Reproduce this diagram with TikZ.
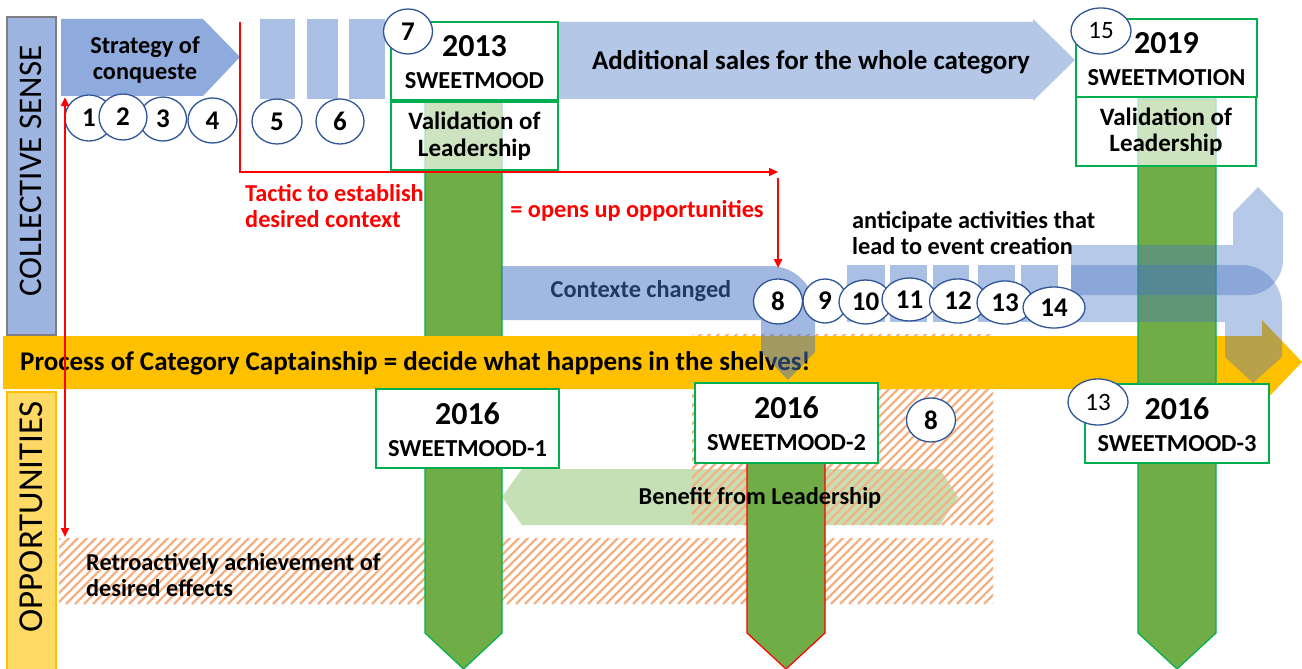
\documentclass[tikz,border=0pt]{standalone}
\usepackage{fontspec}
\setmainfont{Carlito}
\usepackage{tikz}
\usetikzlibrary{shapes,arrows.meta,calc,positioning}

\definecolor{cYellow}{HTML}{FFC000}
\definecolor{cOppFill}{HTML}{FFD966}
\definecolor{cSenseFill}{HTML}{9DB5E0}
\definecolor{cSenseLine}{HTML}{7F7F7F}
\definecolor{cBlue}{HTML}{4472C4}
\definecolor{cStrategy}{HTML}{8FAADC}
\definecolor{cSales}{HTML}{B4C7E7}
\definecolor{cGreen}{HTML}{70AD47}
\definecolor{cGreenLine}{HTML}{00B050}
\definecolor{cBenefit}{HTML}{C5E0B4}
\definecolor{cHatch}{HTML}{F4B183}
\definecolor{cCircle}{HTML}{2F5597}
\definecolor{cDarkBlue}{HTML}{203864}

\tikzstyle{tsBold} = [
    text=black,
    font=\bfseries\fontsize{24.3}{26.5}\selectfont,
    inner sep=0pt
]
\tikzstyle{tsLargeBold} = [
    tsBold,
    font=\bfseries\fontsize{27}{30}\selectfont
]
\tikzstyle{tsWraptext} = [
    tsBold,
    align=center
]
\tikzstyle{tsYear} = [
    tsBold,
    font=\bfseries\fontsize{32}{36}\selectfont
]
\tikzstyle{tsName} = [
    tsBold,
    font=\bfseries\fontsize{24.4}{28}\selectfont
]
\tikzstyle{tsSide} = [
    text=black,
    font=\fontsize{33}{38}\selectfont,
    rotate=90,
    inner sep=0pt
]
\tikzstyle{tsBand} = [
    rectangle,
    line width=1.5pt,
    inner sep=0pt
]
\tikzstyle{tsBox} = [
    rectangle,
    draw=cGreenLine,
    line width=1.5pt,
    fill=white,
    inner sep=0pt
]
\tikzstyle{tsValBox} = [
    tsBox,
    fill opacity=0.66
]
\tikzstyle{tsNum} = [
    ellipse,
    draw=cCircle,
    line width=1.3pt,
    fill=white,
    inner sep=0pt,
    font=\bfseries\fontsize{27}{30}\selectfont
]
\tikzstyle{tsNumSmall} = [
    tsNum,
    font=\fontsize{25}{28}\selectfont
]
\tikzstyle{tsGreenBar} = [
    fill=cGreen,
    draw=cGreenLine,
    line width=1.2pt
]
\tikzstyle{tsHatch} = [
    cHatch,
    line width=2.3pt
]
\tikzstyle{tsRedLine} = [
    red,
    line width=2.5pt
]
\tikzstyle{tsRedArrow} = [
    tsRedLine,
    -{Triangle[length=9pt,width=8pt]}
]

\begin{document}
\begin{tikzpicture}[x=1pt, y=-1pt]
        \useasboundingbox (0,0) rectangle (1302,669);
        \fill[white] (0,0) rectangle (1302,669);

        % Side bands
        \node[tsBand, fill=cSenseFill, draw=cSenseLine,
              minimum width=49pt, minimum height=318pt] (senseBand) at (31.5,176) {};
        \node[tsBand, fill=cOppFill, draw=cYellow,
              minimum width=49pt, minimum height=280pt] (oppBand) at (31.5,532) {};
        \node[tsSide] (senseText) at (31,171) {COLLECTIVE SENSE};
        \node[tsSide, font=\fontsize{35}{40}\selectfont] (oppText) at (31,517) {OPPORTUNITIES};

        % Benefit arrow
        \fill[cBenefit] (502,497) -- (522,469) -- (940,469) -- (958,497) -- (940,525) -- (522,525) -- cycle;

        % Hatched areas
        \foreach \hxa/\hya/\hxb/\hyb in {59/538/993/604, 692/334/993/525} {
            \begin{scope}
                \clip (\hxa,\hya) rectangle (\hxb,\hyb);
                \foreach \hx in {-200,-191,...,1000}
                    \draw[tsHatch] (\hxa+\hx,\hyb) -- ++(200,-200);
            \end{scope}
        }

        % Green bars
        \draw[tsGreenBar] (425,99) -- (502,99) -- (502,633) -- (463.5,669) -- (425,633) -- cycle;
        \draw[tsGreenBar, draw=red] (747,440) -- (825,440) -- (825,633) -- (786,669) -- (747,633) -- cycle;

        % Category captainship
        \fill[cYellow] (3,336) -- (1262,336) -- (1262,320) -- (1302,362) -- (1262,404) -- (1262,389) -- (3,389) -- cycle;
        \node[tsLargeBold, anchor=west] (processText) at (20,363) {Process of Category Captainship = decide what happens in the shelves!};

        \draw[tsGreenBar] (1138,99) -- (1216,99) -- (1216,633) -- (1177,669) -- (1138,633) -- cycle;

        % Blue arrows
        \fill[cStrategy] (61,19) -- (203,19) -- (240,57) -- (203,96) -- (61,96) -- cycle;
        \foreach \rx/\rw in {260/35, 307/31, 349/36}
            \fill[cBlue, fill opacity=0.45] (\rx,19) rectangle ++(\rw,80);
        \fill[cSales] (558,22) -- (1033,22) -- (1033,19) -- (1075,60) -- (1033,101) -- (1033,99) -- (558,99) -- cycle;
        \foreach \rx/\rw in {847/38, 890/37, 933/36, 978/37, 1021/37}
            \fill[cBlue, fill opacity=0.45] (\rx,265) rectangle ++(\rw,57);
        \fill[cBlue, fill opacity=0.5] (501,266) -- (770,266) .. controls (795,266) and (815,286) .. (815,311)
            -- (815,352) -- (788,380) -- (761,352) -- (761,320) -- (501,320) -- cycle;
        \fill[cBlue, fill opacity=0.38] (1071,245) -- (1233,245) -- (1233,213) -- (1258,187) -- (1283,213)
            -- (1283,260) .. controls (1283,279) and (1267,295) .. (1248,295) -- (1071,295) -- cycle;
        \fill[cBlue, fill opacity=0.38] (1071,265) -- (1242,265) .. controls (1264,265) and (1282,284) .. (1282,306)
            -- (1282,357) -- (1253,383) -- (1225,357) -- (1225,322) -- (1071,322) -- cycle;

        % Define nodes
        \node[tsBox, minimum width=167pt, minimum height=78pt] (b2013) at (474.5,61) {};
        \node[tsValBox, minimum width=167pt, minimum height=68pt] (bVal1) at (474.5,136) {};
        \node[tsBox, minimum width=181pt, minimum height=78pt] (b2019) at (1166.5,58) {};
        \node[tsValBox, minimum width=180pt, minimum height=69pt] (bVal2) at (1166,131.5) {};
        \node[tsBox, minimum width=183pt, minimum height=79pt] (b2016a) at (467.5,428.5) {};
        \node[tsBox, minimum width=183pt, minimum height=80pt] (b2016b) at (786.5,423) {};
        \node[tsBox, minimum width=184pt, minimum height=79pt] (b2016c) at (1177,423.5) {};

        \node[tsYear] (y2013) at ($(b2013.center)+(0,-15)$) {2013};
        \node[tsName] (t2013) at ($(b2013.center)+(0,20)$) {SWEETMOOD};
        \node[tsWraptext, font=\bfseries\fontsize{25}{26.5}\selectfont] (val1Text) at (bVal1.center) {Validation of\\Leadership};
        \node[tsYear] (y2019) at ($(b2019.center)+(0,-15)$) {2019};
        \node[tsName] (t2019) at ($(b2019.center)+(0,20)$) {SWEETMOTION};
        \node[tsWraptext, font=\bfseries\fontsize{25}{26.5}\selectfont] (val2Text) at (bVal2.center) {Validation of\\Leadership};
        \node[tsYear] (y2016a) at ($(b2016a.center)+(0,-15)$) {2016};
        \node[tsName] (t2016a) at ($(b2016a.center)+(0,20)$) {SWEETMOOD-1};
        \node[tsYear] (y2016b) at ($(b2016b.center)+(0,-15)$) {2016};
        \node[tsName] (t2016b) at ($(b2016b.center)+(0,20)$) {SWEETMOOD-2};
        \node[tsYear] (y2016c) at ($(b2016c.center)+(0,-15)$) {2016};
        \node[tsName] (t2016c) at ($(b2016c.center)+(0,20)$) {SWEETMOOD-3};

        % Numbered steps
        \node[tsNum, minimum width=48pt, minimum height=46pt] (n1) at (89,118) {1};
        \node[tsNum, minimum width=47pt, minimum height=44pt] (n3) at (163,119) {3};
        \node[tsNum, minimum width=48pt, minimum height=46pt] (n2) at (123,117) {2};
        \node[tsNum, minimum width=49pt, minimum height=45pt] (n4) at (212.5,120.5) {4};
        \node[tsNum, minimum width=50pt, minimum height=45pt] (n5) at (277,121.5) {5};
        \node[tsNum, minimum width=48pt, minimum height=45pt] (n6) at (340,121.5) {6};
        \node[tsNum, minimum width=49pt, minimum height=45pt] (n7) at (408,31.5) {7};
        \node[tsNumSmall, minimum width=60pt, minimum height=46pt] (n15) at (1101,31) {15};
        \node[tsNum, minimum width=49pt, minimum height=45pt] (n8) at (778,301.5) {8};
        \node[tsNum, minimum width=44pt, minimum height=44pt] (n9) at (825,301) {9};
        \node[tsNum, minimum width=53pt, minimum height=44pt] (n10) at (865.5,302) {10};
        \node[tsNum, minimum width=55pt, minimum height=43pt] (n11) at (909.5,299.5) {11};
        \node[tsNum, minimum width=57pt, minimum height=44pt] (n12) at (958,301) {12};
        \node[tsNum, minimum width=56pt, minimum height=43pt] (n13) at (1005,302.5) {13};
        \node[tsNum, minimum width=62pt, minimum height=41pt] (n14) at (1054,307.5) {14};
        \node[tsNum, minimum width=49pt, minimum height=44pt] (n8b) at (931,420) {8};
        \node[tsNumSmall, minimum width=60pt, minimum height=46pt] (n13b) at (1098,402) {13};

        % Red connectors
        \coordinate (tacTop) at (240,22);
        \coordinate (tacCorner) at (240,172);
        \coordinate (tacEnd) at (778,172);
        \coordinate (oppTop) at (778,178);
        \coordinate (oppEnd) at (778,268);
        \coordinate (retroTop) at (65,97);
        \coordinate (retroEnd) at (65,537);
        \draw[tsRedArrow] (tacTop) -- (tacCorner) -- (tacEnd);
        \draw[tsRedArrow] (oppTop) -- (oppEnd);
        \draw[tsRedLine, {Triangle[length=9pt,width=8pt]}-{Triangle[length=9pt,width=8pt]}] (retroTop) -- (retroEnd);

        % Labels
        \node[tsWraptext] (strategyText) at (145,60) {Strategy of\\conqueste};
        \node[tsLargeBold] (salesText) at (811,62) {Additional sales for the whole category};
        \node[tsBold, text=red, align=left, anchor=west] (tacticText) at (245,206) {Tactic to establish\\desired context};
        \node[tsBold, text=red] (opensText) at (637,211) {= opens up opportunities};
        \node[tsBold, align=left, anchor=west] (anticipateText) at (852,233) {anticipate activities that\\lead to event creation};
        \node[tsBold, text=cDarkBlue] (ctxText) at (641,291) {Contexte changed};
        \node[tsBold] (benefitText) at (760,498) {Benefit from Leadership};
        \node[tsBold, align=left, anchor=west] (retroText) at (86,575) {Retroactively achievement of\\desired effects};

    \end{tikzpicture}
\end{document}
